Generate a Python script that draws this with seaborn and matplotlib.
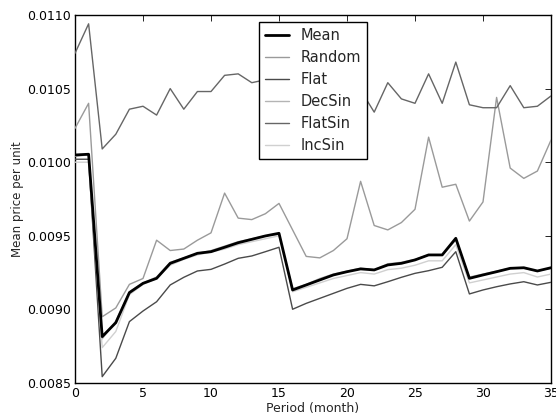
import matplotlib
matplotlib.use("Agg")
import matplotlib.pyplot as plt
import seaborn as sns
import pandas as pd
from matplotlib.ticker import FormatStrFormatter, MultipleLocator

# Mean price per unit for each pricing strategy over 36 months
period = list(range(36))

mean = [0.010049, 0.010054, 0.008815, 0.008910, 0.009114, 0.009177, 0.009211, 0.009313,
        0.009347, 0.009381, 0.009392, 0.009422, 0.009453, 0.009476, 0.009499, 0.009517,
        0.009132, 0.009166, 0.009200, 0.009234, 0.009256, 0.009275, 0.009268, 0.009302,
        0.009313, 0.009336, 0.009370, 0.009370, 0.009483, 0.009211, 0.009234, 0.009256,
        0.009279, 0.009283, 0.009261, 0.009283]

random_s = [0.01023, 0.01040, 0.00895, 0.00901, 0.00917, 0.00921, 0.00947, 0.00940,
            0.00941, 0.00947, 0.00952, 0.00979, 0.00962, 0.00961, 0.00965, 0.00972,
            0.00954, 0.00936, 0.00935, 0.00940, 0.00948, 0.00987, 0.00957, 0.00954,
            0.00959, 0.00968, 0.01017, 0.00983, 0.00985, 0.00960, 0.00973, 0.01044,
            0.00996, 0.00989, 0.00994, 0.01015]

flat = [0.010020, 0.010020, 0.008543, 0.008668, 0.008917, 0.008989, 0.009052, 0.009166,
        0.009218, 0.009261, 0.009272, 0.009308, 0.009347, 0.009363, 0.009392, 0.009422,
        0.009001, 0.009041, 0.009075, 0.009109, 0.009143, 0.009170, 0.009160, 0.009188,
        0.009218, 0.009245, 0.009263, 0.009286, 0.009392, 0.009105, 0.009132, 0.009154,
        0.009173, 0.009188, 0.009166, 0.009184]

dec_sin = [0.01004, 0.01005, 0.00880, 0.00892, 0.00912, 0.00918, 0.00922, 0.00932,
           0.00935, 0.00938, 0.00940, 0.00943, 0.00946, 0.00948, 0.00950, 0.00951,
           0.00914, 0.00917, 0.00921, 0.00924, 0.00926, 0.00928, 0.00927, 0.00931,
           0.00932, 0.00934, 0.00937, 0.00937, 0.00947, 0.00922, 0.00924, 0.00926,
           0.00928, 0.00928, 0.00926, 0.00928]

flat_sin = [0.01074, 0.01094, 0.01009, 0.01019, 0.01036, 0.01038, 0.01032, 0.01050,
            0.01036, 0.01048, 0.01048, 0.01059, 0.01060, 0.01054, 0.01056, 0.01058,
            0.01050, 0.01055, 0.01060, 0.01051, 0.01056, 0.01049, 0.01034, 0.01054,
            0.01043, 0.01040, 0.01060, 0.01040, 0.01068, 0.01039, 0.01037, 0.01037,
            0.01052, 0.01037, 0.01038, 0.01045]

inc_sin = [0.01000, 0.01000, 0.00874, 0.00885, 0.00910, 0.00917, 0.00921, 0.00930,
           0.00934, 0.00937, 0.00939, 0.00941, 0.00944, 0.00946, 0.00948, 0.00950,
           0.00912, 0.00915, 0.00918, 0.00921, 0.00923, 0.00925, 0.00924, 0.00927,
           0.00928, 0.00930, 0.00933, 0.00933, 0.00944, 0.00918, 0.00920, 0.00922,
           0.00924, 0.00925, 0.00922, 0.00924]

labels = ["Mean", "Random", "Flat", "DecSin", "FlatSin", "IncSin"]
series = [mean, random_s, flat, dec_sin, flat_sin, inc_sin]
colors = ["#000000", "#9a9a9a", "#4a4a4a", "#b4b4b4", "#666666", "#d0d0d0"]
widths = [2.0, 1.0, 1.0, 1.0, 1.0, 1.0]
zorders = [10, 3, 4, 5, 3, 6]

sns.set_style("white")
plt.rcParams["font.family"] = ["DejaVu Sans"]

fig = plt.figure(figsize=(5.56, 4.15), dpi=100)
ax = fig.add_axes([0.1349, 0.0771, 0.8561, 0.8868])

for lab, vals, col, lw, zo in zip(labels, series, colors, widths, zorders):
    df = pd.DataFrame({"Period": period, "Price": vals})
    sns.lineplot(data=df, x="Period", y="Price", ax=ax, color=col, linewidth=lw,
                 label=lab, zorder=zo)

ax.set_xlim(0, 35)
ax.set_ylim(0.0085, 0.0110)
ax.xaxis.set_major_locator(MultipleLocator(5))
ax.yaxis.set_major_locator(MultipleLocator(0.0005))
ax.yaxis.set_major_formatter(FormatStrFormatter("%.4f"))
ax.tick_params(direction="in", length=4, width=0.6, top=True, right=True,
               labelsize=9, pad=3, colors="black")
for sp in ax.spines.values():
    sp.set_color("black")
    sp.set_linewidth(1.0)
ax.set_xlabel("Period (month)", fontsize=9, labelpad=1)
ax.set_ylabel("Mean price per unit", fontsize=8.5, labelpad=2)

leg = ax.legend(loc="upper center", fontsize=10.5, frameon=True, fancybox=False,
                handlelength=1.7, borderaxespad=0.5, labelspacing=0.48)
leg.get_frame().set_edgecolor("black")
leg.get_frame().set_linewidth(1.0)
leg.get_frame().set_alpha(1.0)
leg.set_zorder(20)

fig.savefig("out.png", dpi=100)
